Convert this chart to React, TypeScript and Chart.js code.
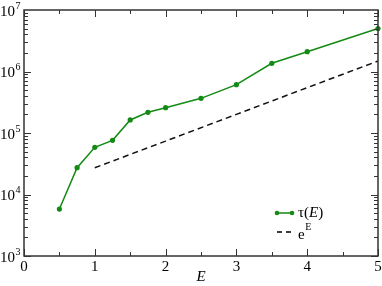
import React, { useEffect, useRef } from 'react';
import { Chart, registerables } from 'chart.js';
Chart.register(...registerables);

// tau(E) data
const energies = [0.5, 0.75, 1, 1.25, 1.5, 1.75, 2, 2.5, 3, 3.5, 4, 5];
const tauValues = [5800, 27300, 58500, 76000, 163000, 217000, 258000, 366000, 611000, 1360000, 2100000, 5000000];
// e^E reference line (scaled)
const expEnergies = [1, 2, 3, 4, 5];
const expValues = [27200, 73900, 201000, 546000, 1480000];
// ticks
const xTickLabels = [0, 1, 2, 3, 4, 5];
const yDecades = [3, 4, 5, 6, 7];

const GREEN = '#138a13';
const FRAME = '#333333';
const SERIF = '"Liberation Serif", "DejaVu Serif", serif';

const framePlugin = {
  id: 'frame',
  afterDraw(chart: any) {
    const { ctx, chartArea: a, scales } = chart;
    const x = scales.x;
    const y = scales.y;
    ctx.save();
    ctx.strokeStyle = FRAME;
    ctx.lineWidth = 1.5;
    ctx.strokeRect(a.left, a.top, a.right - a.left, a.bottom - a.top);
    ctx.lineWidth = 1;
    // x ticks (bottom and top)
    for (let v = 0; v <= 5.001; v += 0.5) {
      const px = Math.round(x.getPixelForValue(v)) + 0.5;
      const len = Math.abs(v - Math.round(v)) < 1e-6 ? 7 : 4;
      ctx.beginPath();
      ctx.moveTo(px, a.bottom);
      ctx.lineTo(px, a.bottom - len);
      ctx.moveTo(px, a.top);
      ctx.lineTo(px, a.top + len);
      ctx.stroke();
    }
    // y ticks (left and right)
    for (let d = yDecades[0]; d < yDecades[yDecades.length - 1]; d++) {
      for (let m = 1; m <= 9; m++) {
        const val = m * Math.pow(10, d);
        const py = Math.round(y.getPixelForValue(val)) + 0.5;
        const len = m === 1 ? 7 : 4;
        ctx.beginPath();
        ctx.moveTo(a.left, py);
        ctx.lineTo(a.left + len, py);
        ctx.moveTo(a.right, py);
        ctx.lineTo(a.right - len, py);
        ctx.stroke();
      }
    }
    // x labels
    ctx.fillStyle = '#000';
    ctx.font = `15px ${SERIF}`;
    ctx.textAlign = 'center';
    ctx.textBaseline = 'middle';
    for (const v of xTickLabels) {
      ctx.fillText(String(v), x.getPixelForValue(v), a.bottom + 11);
    }
    // y labels with superscripts
    for (const d of yDecades) {
      const py = y.getPixelForValue(Math.pow(10, d));
      ctx.font = `15px ${SERIF}`;
      ctx.textAlign = 'left';
      ctx.textBaseline = 'middle';
      ctx.fillText('10', 0, py + 2);
      const w = ctx.measureText('10').width;
      ctx.font = `10px ${SERIF}`;
      ctx.fillText(String(d), w + 0.5, py - 4);
    }
    // axis title
    ctx.font = `italic 15px ${SERIF}`;
    ctx.textAlign = 'center';
    ctx.fillText('E', (a.left + a.right) / 2, a.bottom + 21);

    // legend
    const lx0 = 277, lx1 = 292;
    const ly1 = 213, ly2 = 232;
    ctx.strokeStyle = GREEN;
    ctx.lineWidth = 1.5;
    ctx.beginPath();
    ctx.moveTo(lx0, ly1);
    ctx.lineTo(lx1, ly1);
    ctx.stroke();
    ctx.fillStyle = GREEN;
    for (const px of [lx0, lx1]) {
      ctx.beginPath();
      ctx.arc(px, ly1, 2.3, 0, Math.PI * 2);
      ctx.fill();
    }
    ctx.strokeStyle = '#000';
    ctx.setLineDash([5, 4]);
    ctx.beginPath();
    ctx.moveTo(lx0, ly2);
    ctx.lineTo(lx1 + 1, ly2);
    ctx.stroke();
    ctx.setLineDash([]);
    ctx.fillStyle = '#000';
    ctx.textAlign = 'left';
    ctx.textBaseline = 'middle';
    let tx = 298;
    ctx.font = `15px ${SERIF}`;
    ctx.fillText('τ(', tx, ly1);
    tx += ctx.measureText('τ(').width;
    ctx.font = `italic 15px ${SERIF}`;
    ctx.fillText('E', tx, ly1);
    tx += ctx.measureText('E').width;
    ctx.font = `15px ${SERIF}`;
    ctx.fillText(')', tx, ly1);
    ctx.fillText('e', 298, ly2 + 3);
    const ew = ctx.measureText('e').width;
    ctx.font = `10px ${SERIF}`;
    ctx.fillText('E', 298 + ew + 0.5, ly2 - 5);
    ctx.restore();
  },
};

export default function App() {
  const ref = useRef<HTMLCanvasElement>(null);
  useEffect(() => {
    document.body.style.margin = '0';
    const canvas = ref.current!;
    const chart = new Chart(canvas, {
      type: 'line',
      data: {
        datasets: [
          {
            label: 'τ(E)',
            data: energies.map((e, i) => ({ x: e, y: tauValues[i] })),
            borderColor: GREEN,
            backgroundColor: GREEN,
            borderWidth: 1.5,
            pointRadius: 2.6,
            pointBorderWidth: 0,
            pointBackgroundColor: GREEN,
            tension: 0,
            clip: false as any,
          },
          {
            label: 'e^E',
            data: expEnergies.map((e, i) => ({ x: e, y: expValues[i] })),
            borderColor: '#111',
            borderWidth: 1.5,
            borderDash: [6, 4],
            pointRadius: 0,
            tension: 0,
          },
        ],
      },
      options: {
        animation: false,
        responsive: false,
        events: [],
        layout: { padding: { left: 24, top: 10, right: 4, bottom: 30 } },
        plugins: { legend: { display: false }, tooltip: { enabled: false } },
        scales: {
          x: { type: 'linear', min: 0, max: 5, display: false },
          y: { type: 'logarithmic', min: 1000, max: 1e7, display: false },
        },
      },
      plugins: [framePlugin],
    });
    return () => chart.destroy();
  }, []);
  return <canvas ref={ref} width={382} height={286} style={{ display: 'block' }} />;
}
